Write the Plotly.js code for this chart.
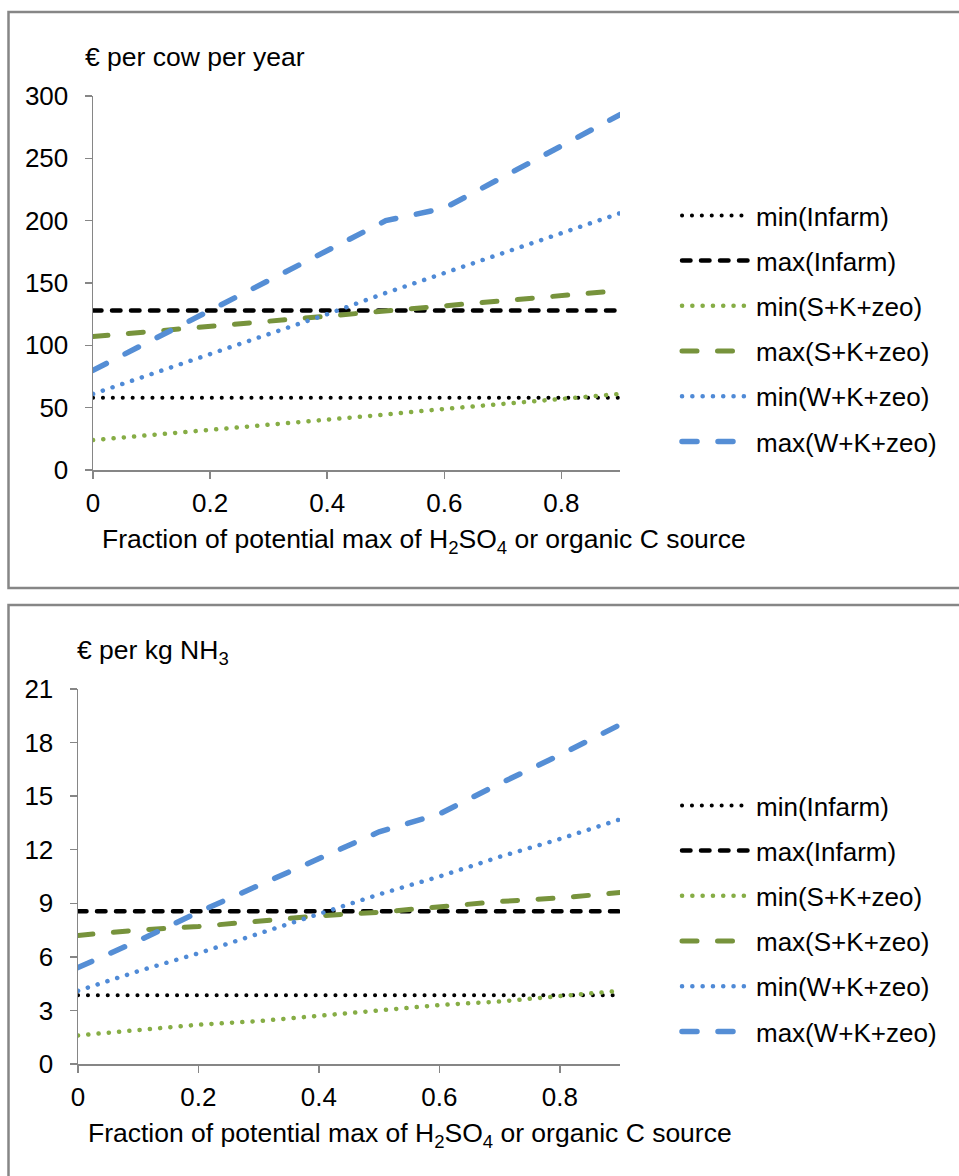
<!DOCTYPE html>
<html><head><meta charset="utf-8">
<script src="https://cdn.plot.ly/plotly-3.0.1.min.js"></script>
<style>
html,body{margin:0;padding:0;background:#fff;}
#chart{width:959px;height:1176px;}
.js-line{stroke-linecap:round !important;}
</style></head><body><div id="chart"></div>
<script>
// x values: fraction of potential max of H2SO4 or organic C source
const fraction = [0, 0.1, 0.2, 0.3, 0.4, 0.5, 0.6, 0.7, 0.8, 0.9];
const seriesNames = ['min(Infarm)', 'max(Infarm)', 'min(S+K+zeo)', 'max(S+K+zeo)', 'min(W+K+zeo)', 'max(W+K+zeo)'];
const xTickVals = [0, 0.2, 0.4, 0.6, 0.8];
const xTickText = ['0', '0.2', '0.4', '0.6', '0.8'];

// Panel 1: € per cow per year
const cowMinInfarm = [58, 58, 58, 58, 58, 58, 58, 58, 58, 58];
const cowMaxInfarm = [128, 128, 128, 128, 128, 128, 128, 128, 128, 128];
const cowMinSKzeo = [24, 28, 32, 36, 40, 44.5, 49, 53, 57, 61];
const cowMaxSKzeo = [107, 111, 115, 119, 123, 128, 132, 136, 140, 144];
const cowMinWKzeo = [61, 77, 93, 109, 125, 142, 158, 174, 190, 206];
const cowMaxWKzeo = [80, 104, 128, 152, 176, 200, 210, 235, 260, 285];

// Panel 2: € per kg NH3
const nh3MinInfarm = [3.85, 3.85, 3.85, 3.85, 3.85, 3.85, 3.85, 3.85, 3.85, 3.85];
const nh3MaxInfarm = [8.55, 8.55, 8.55, 8.55, 8.55, 8.55, 8.55, 8.55, 8.55, 8.55];
const nh3MinSKzeo = [1.6, 1.9, 2.2, 2.4, 2.7, 3.0, 3.3, 3.5, 3.8, 4.1];
const nh3MaxSKzeo = [7.2, 7.5, 7.7, 8.0, 8.3, 8.5, 8.8, 9.1, 9.3, 9.6];
const nh3MinWKzeo = [4.1, 5.2, 6.2, 7.3, 8.4, 9.5, 10.5, 11.6, 12.6, 13.7];
const nh3MaxWKzeo = [5.4, 6.9, 8.5, 10.0, 11.5, 13.0, 14.0, 15.7, 17.3, 19.0];

const lineStyles = [
  {color: '#000000', width: 4, dash: '0.1px,9.8px'},
  {color: '#000000', width: 4.5, dash: '8.5px,10.5px'},
  {color: '#86AD45', width: 4.5, dash: '0.1px,10.2px'},
  {color: '#77933C', width: 5, dash: '15px,20.5px'},
  {color: '#4F8AD6', width: 4.5, dash: '0.1px,10.2px'},
  {color: '#558ED5', width: 5.5, dash: '15px,21px'}
];

const FONT = 'Liberation Sans, Arial, sans-serif';
const FS = 26;
const panel1 = [cowMinInfarm, cowMaxInfarm, cowMinSKzeo, cowMaxSKzeo, cowMinWKzeo, cowMaxWKzeo];
const panel2 = [nh3MinInfarm, nh3MaxInfarm, nh3MinSKzeo, nh3MaxSKzeo, nh3MinWKzeo, nh3MaxWKzeo];

const traces = [];
panel1.forEach((ys, i) => traces.push({
  type: 'scatter', mode: 'lines', x: fraction, y: ys, name: seriesNames[i],
  xaxis: 'x', yaxis: 'y', legend: 'legend', legendgroup: 'a' + i,
  line: lineStyles[i], hoverinfo: 'skip'
}));
panel2.forEach((ys, i) => traces.push({
  type: 'scatter', mode: 'lines', x: fraction, y: ys, name: seriesNames[i],
  xaxis: 'x2', yaxis: 'y2', legend: 'legend2', legendgroup: 'b' + i,
  line: lineStyles[i], hoverinfo: 'skip'
}));

const H = 1176, W = 959;
const py = p => 1 - p / H;
const px = p => p / W;

const axisCommon = {
  showline: true, linecolor: '#868686', linewidth: 1.5,
  ticks: 'outside', ticklen: 7, tickwidth: 1.5, tickcolor: '#868686',
  showgrid: false, zeroline: false, fixedrange: true,
  tickfont: {family: FONT, size: FS, color: '#000'}
};

const legendCommon = {
  font: {family: FONT, size: FS, color: '#000'},
  bgcolor: 'rgba(0,0,0,0)', borderwidth: 0,
  xanchor: 'left', yanchor: 'top', tracegroupgap: 8.4, itemwidth: 69,
  traceorder: 'grouped'
};

const layout = {
  width: W, height: H,
  margin: {l: 0, r: 0, t: 0, b: 0},
  paper_bgcolor: '#fff', plot_bgcolor: '#fff',
  font: {family: FONT, size: FS, color: '#000'},
  xaxis: Object.assign({}, axisCommon, {domain: [px(93), px(620)], anchor: 'y', range: [0, 0.9],
    tickvals: xTickVals, ticktext: xTickText, ticklabelstandoff: 2}),
  yaxis: Object.assign({}, axisCommon, {domain: [py(470), py(96)], anchor: 'x', range: [0, 300],
    dtick: 50, tick0: 0, ticklabelstandoff: 11}),
  xaxis2: Object.assign({}, axisCommon, {domain: [px(78), px(620)], anchor: 'y2', range: [0, 0.9],
    tickvals: xTickVals, ticktext: xTickText, ticklabelstandoff: 2}),
  yaxis2: Object.assign({}, axisCommon, {domain: [py(1064), py(689)], anchor: 'x2', range: [0, 21],
    dtick: 3, tick0: 0, ticklabelstandoff: 11}),
  legend: Object.assign({}, legendCommon, {x: px(677), y: py(192)}),
  legend2: Object.assign({}, legendCommon, {x: px(677), y: py(782)}),
  shapes: [
    {type: 'rect', xref: 'paper', yref: 'paper', x0: px(8.5), x1: 1.05, y0: py(588), y1: py(12),
      line: {color: '#868686', width: 2.5}, fillcolor: 'rgba(0,0,0,0)', layer: 'below'},
    {type: 'rect', xref: 'paper', yref: 'paper', x0: px(8.5), x1: 1.05, y0: -0.05, y1: py(605),
      line: {color: '#868686', width: 2.5}, fillcolor: 'rgba(0,0,0,0)', layer: 'below'}
  ],
  annotations: [
    {xref: 'paper', yref: 'paper', x: px(83), y: py(57), xanchor: 'left', yanchor: 'middle',
      text: '€ per cow per year', showarrow: false, font: {family: FONT, size: 26.5, color: '#000'}},
    {xref: 'paper', yref: 'paper', x: px(75), y: py(652), xanchor: 'left', yanchor: 'middle',
      text: '€ per kg NH<sub>3</sub>', showarrow: false, font: {family: FONT, size: 26.5, color: '#000'}},
    {xref: 'paper', yref: 'paper', x: px(424), y: py(541), xanchor: 'center', yanchor: 'middle',
      text: 'Fraction of potential max of H<sub>2</sub>SO<sub>4</sub> or organic C source', showarrow: false,
      font: {family: FONT, size: 26.5, color: '#000'}},
    {xref: 'paper', yref: 'paper', x: px(410), y: py(1135), xanchor: 'center', yanchor: 'middle',
      text: 'Fraction of potential max of H<sub>2</sub>SO<sub>4</sub> or organic C source', showarrow: false,
      font: {family: FONT, size: 26.5, color: '#000'}}
  ],
  showlegend: true
};

Plotly.newPlot('chart', traces, layout, {displayModeBar: false, staticPlot: true}).then(() => {
  // drop empty placeholder text nodes that Plotly leaves behind
  document.querySelectorAll('#chart text').forEach(t => {
    if (!t.textContent.trim()) t.remove();
  });
});
</script></body></html>
